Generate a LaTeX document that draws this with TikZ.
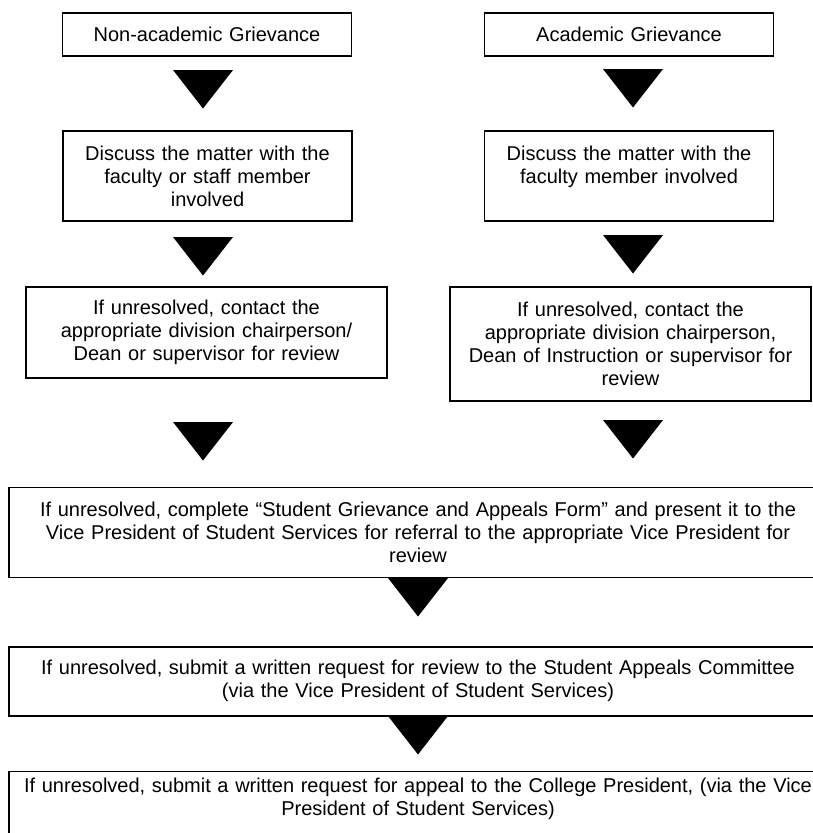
\documentclass[tikz,border=0pt]{standalone}
\usepackage{fontspec}
\setmainfont{Liberation Sans}
\usetikzlibrary{positioning}

\begin{document}
\begin{tikzpicture}[
	x=1pt, y=-1pt,
	stepbox/.style={draw, line width=1.5pt, inner xsep=4pt, inner ysep=2pt, align=center, font=\fontsize{20}{23}\selectfont},
	narrowbox/.style={stepbox, text width=281pt},
	widebox/.style={stepbox, text width=353pt},
	fullbox/.style={stepbox, text width=810pt},
	downtri/.pic={\fill (-30,0) -- (30,0) -- (0,38.5) -- cycle;}
]

\useasboundingbox (0,0) rectangle (813,833);
\clip (0,0) rectangle (813,833);

% two starting columns
\node[narrowbox, minimum height=43pt] (nonacad) at (207,34.5) {Non-academic Grievance};
\node[narrowbox, minimum height=43pt] (acad) at (629,34.5) {Academic Grievance};
\node[narrowbox, minimum height=90pt] (discussL) at (207.5,176) {Discuss the matter with the\\faculty or staff member\\involved};
\node[narrowbox, minimum height=90pt] (discussR) at (629,176) {Discuss the matter with the\\faculty member involved\\ \mbox{}};
\node[widebox, minimum height=91pt] (chairL) at (206.5,332.5) {If unresolved, contact the\\appropriate division chairperson/\\Dean or supervisor for review};
\node[widebox, minimum height=114pt] (chairR) at (630.5,344) {If unresolved, contact the\\appropriate division chairperson,\\Dean of Instruction or supervisor for\\review};

% common steps
\node[fullbox, minimum height=90pt] (form) at (418,532.5) {If unresolved, complete “Student Grievance and Appeals Form” and present it to the\\Vice President of Student Services for referral to the appropriate Vice President for\\review};
\node[fullbox, minimum height=69pt] (committee) at (418,681.3) {If unresolved, submit a written request for review to the Student Appeals Committee\\(via the Vice President of Student Services)};
\node[fullbox, minimum height=73pt] (president) at (418,808) {If unresolved, submit a written request for appeal to the College President, (via the Vice\\President of Student Services)\\ \mbox{}};

\foreach \x/\y in {203/70, 633/69, 203/237, 633/235, 203/422, 633/420, 418/578, 418/716}
	\pic at (\x,\y) {downtri};

\end{tikzpicture}
\end{document}
